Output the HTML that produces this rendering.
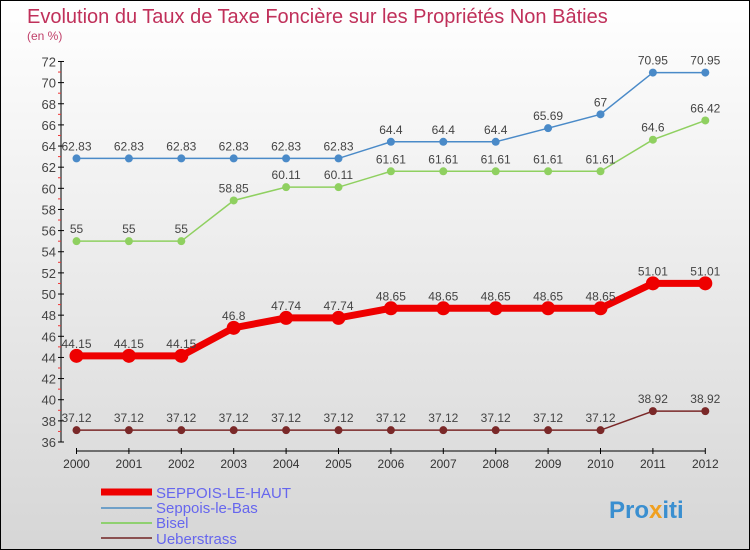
<!DOCTYPE html>
<html><head><meta charset="utf-8"><style>
body{margin:0}
#c{width:748px;height:548px;border:1px solid #000;background:linear-gradient(#fff,#d6d6d6);position:relative;font-family:"Liberation Sans",sans-serif;overflow:hidden}
</style></head><body>
<div id="c">
<svg width="748" height="548" id="svg">
<text x="26" y="22" font-size="20" fill="#c0305a">Evolution du Taux de Taxe Foncière sur les Propriétés Non Bâties</text>
<text x="26" y="39" font-size="12" fill="#c0406a">(en %)</text>
<g id="axes"></g><g id="series"></g>
<g font-size="15" fill="#6666ee">
<line x1="100" y1="491" x2="151" y2="491" stroke="#e00" stroke-width="7"/>
<text x="155" y="497">SEPPOIS-LE-HAUT</text>
<line x1="100" y1="507" x2="151" y2="507" stroke="#6fa0c8" stroke-width="2"/>
<text x="155" y="512">Seppois-le-Bas</text>
<line x1="100" y1="522" x2="151" y2="522" stroke="#8fd070" stroke-width="2"/>
<text x="155" y="527">Bisel</text>
<line x1="100" y1="537" x2="151" y2="537" stroke="#8a5050" stroke-width="2"/>
<text x="155" y="543">Ueberstrass</text>
</g>
<text x="608" y="517" font-size="24" font-weight="bold" fill="#3a8fd0">Pro<tspan fill="#f0a020">x</tspan>iti</text>
</svg></div>
<script>
const years=[2000,2001,2002,2003,2004,2005,2006,2007,2008,2009,2010,2011,2012];
const yTicks=[36,38,40,42,44,46,48,50,52,54,56,58,60,62,64,66,68,70,72];
const haut=[44.15,44.15,44.15,46.8,47.74,47.74,48.65,48.65,48.65,48.65,48.65,51.01,51.01];
const bas=[62.83,62.83,62.83,62.83,62.83,62.83,64.4,64.4,64.4,65.69,67,70.95,70.95];
const bisel=[55,55,55,58.85,60.11,60.11,61.61,61.61,61.61,61.61,61.61,64.6,66.42];
const ueber=[37.12,37.12,37.12,37.12,37.12,37.12,37.12,37.12,37.12,37.12,37.12,38.92,38.92];
const NS='http://www.w3.org/2000/svg';
const X=i=>75.5+i*52.4;
const Y=v=>441-(v-36)*10.57;
function mk(t,a,p){const e=document.createElementNS(NS,t);for(const k in a)e.setAttribute(k,a[k]);p.appendChild(e);return e;}
const ax=document.getElementById('axes');
mk('line',{x1:60,y1:Y(72),x2:60,y2:Y(36),stroke:'#000'},ax);
mk('line',{x1:X(0),y1:450,x2:X(12),y2:450,stroke:'#000'},ax);
yTicks.forEach(v=>{
 mk('line',{x1:57,y1:Y(v),x2:63,y2:Y(v),stroke:'#000'},ax);
 if(v<72)mk('line',{x1:57,y1:Y(v+1),x2:60,y2:Y(v+1),stroke:'#e33'},ax);
 const t=mk('text',{x:55,y:Y(v)+5,'text-anchor':'end','font-size':13,fill:'#444'},ax);
 t.textContent=v;
 
 
});
years.forEach((y,i)=>{
 mk('line',{x1:X(i),y1:447,x2:X(i),y2:453,stroke:'#000'},ax);
 const t=mk('text',{x:X(i),y:467,'text-anchor':'middle','font-size':12,fill:'#333'},ax);
 t.textContent=y;
 
 
});
const sg=document.getElementById('series');
function series(d,col,w,r,name){
 const g=mk('g',{},sg);
 
 
 mk('polyline',{points:d.map((v,i)=>X(i)+','+Y(v)).join(' '),fill:'none',stroke:col,'stroke-width':w},g);
 d.forEach((v,i)=>{
  const c=mk('circle',{cx:X(i),cy:Y(v),r:r,fill:col},g);
  
  
  const t=mk('text',{x:X(i),y:Y(v)-8,'text-anchor':'middle','font-size':12,fill:'#444'},g);
  t.textContent=v;
  
  
 });
}
series(ueber,'#7a2828',1.5,4,'ueberstrass');
series(bisel,'#8fd060',1.5,4,'bisel');
series(bas,'#4a8ac8',1.5,4,'seppois-le-bas');
series(haut,'#ee0000',7,7,'seppois-le-haut');
</script>
</body></html>
